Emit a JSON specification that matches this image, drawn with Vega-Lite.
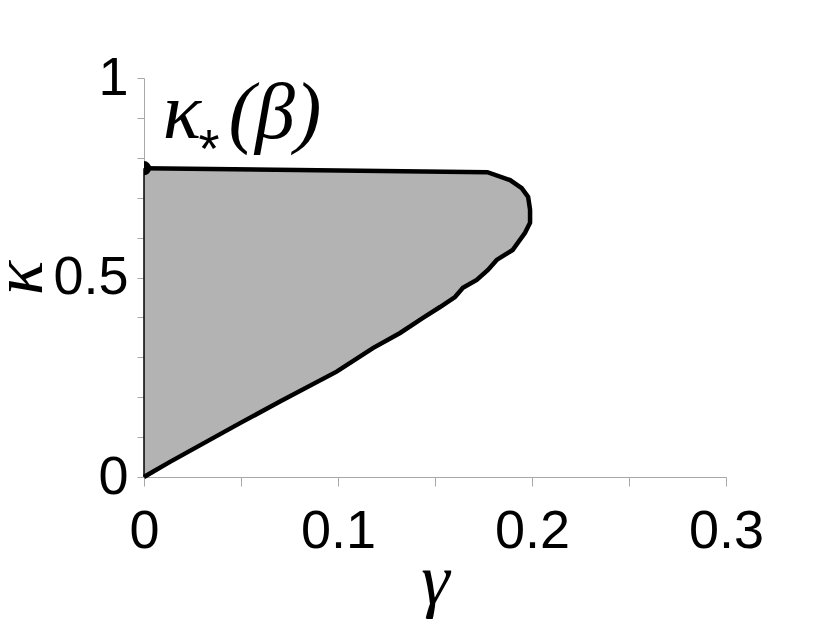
{
  "$schema": "https://vega.github.io/schema/vega-lite/v6.json",
  "autosize": "none",
  "padding": {"left": 144, "top": 78, "right": 104, "bottom": 149},
  "width": 582,
  "height": 399,
  "background": "white",
  "config": {
    "view": {"stroke": null},
    "axis": {
      "grid": false,
      "domainColor": "#a8a8a8",
      "tickColor": "#a8a8a8",
      "domainWidth": 1,
      "tickWidth": 1,
      "labelFont": "Liberation Sans",
      "labelFontSize": 54,
      "labelColor": "black",
      "labelOverlap": false,
      "titleFont": "Liberation Serif",
      "titleFontStyle": "italic",
      "titleFontWeight": "normal",
      "titleColor": "black",
      "titleFontSize": 72
    }
  },
  "datasets": {
    "boundary": [
      {"i": 0, "g": 0, "k": 0.774},
      {"i": 1, "g": 0.177, "k": 0.764},
      {"i": 2, "g": 0.1887, "k": 0.744},
      {"i": 3, "g": 0.1947, "k": 0.724},
      {"i": 4, "g": 0.198, "k": 0.702},
      {"i": 5, "g": 0.199, "k": 0.67},
      {"i": 6, "g": 0.199, "k": 0.637},
      {"i": 7, "g": 0.1964, "k": 0.612},
      {"i": 8, "g": 0.19, "k": 0.569},
      {"i": 9, "g": 0.1818, "k": 0.544},
      {"i": 10, "g": 0.1773, "k": 0.519},
      {"i": 11, "g": 0.1715, "k": 0.494},
      {"i": 12, "g": 0.1644, "k": 0.474},
      {"i": 13, "g": 0.1603, "k": 0.451},
      {"i": 14, "g": 0.1526, "k": 0.426},
      {"i": 15, "g": 0.1438, "k": 0.399},
      {"i": 16, "g": 0.132, "k": 0.361},
      {"i": 17, "g": 0.118, "k": 0.323},
      {"i": 18, "g": 0.0993, "k": 0.264},
      {"i": 19, "g": 0.0701, "k": 0.189},
      {"i": 20, "g": 0.0495, "k": 0.135},
      {"i": 21, "g": 0.0134, "k": 0.038},
      {"i": 22, "g": 0.0046, "k": 0.013},
      {"i": 23, "g": 0, "k": 0}
    ]
  },
  "encoding": {
    "y": {
      "field": "k", "type": "quantitative",
      "scale": {"domain": [0, 1], "nice": false, "zero": false},
      "axis": {
        "title": "κ",
        "values": [0, 0.1, 0.2, 0.3, 0.4, 0.5, 0.6, 0.7, 0.8, 0.9, 1],
        "labelExpr": "round(datum.value*10) % 5 == 0 ? format(datum.value, '~g') : ''",
        "tickSize": 7,
        "labelPadding": 9,
        "titlePadding": -4,
        "titleAngle": -90
      }
    },
    "x": {
      "field": "g", "type": "quantitative",
      "scale": {"domain": [0, 0.3], "nice": false, "zero": false},
      "axis": {
        "title": "γ",
        "values": [0, 0.05, 0.1, 0.15, 0.2, 0.25, 0.3],
        "labelExpr": "round(datum.value*20) % 2 == 0 ? format(datum.value, '~g') : ''",
        "tickSize": 9,
        "labelPadding": 18,
        "titlePadding": -12,
        "labelFlush": false
      }
    }
  },
  "layer": [
    {
      "data": {"name": "boundary"},
      "mark": {"type": "area", "orient": "horizontal", "color": "#b3b3b3", "opacity": 1},
      "encoding": {
        "x2": {"datum": 0}
      }
    },
    {
      "data": {"values": [{"g": 0, "k": 0, "k1": 0.774}]},
      "mark": {"type": "rule", "color": "black", "strokeWidth": 1.5},
      "encoding": {
        "y2": {"field": "k1"}
      }
    },
    {
      "data": {"name": "boundary"},
      "mark": {"type": "line", "color": "black", "strokeWidth": 4.5, "strokeJoin": "miter"},
      "encoding": {
        "order": {"field": "i", "type": "quantitative"}
      }
    },
    {
      "data": {"values": [{"g": 0, "k": 0.774}]},
      "mark": {"type": "point", "filled": true, "color": "black", "opacity": 1, "size": 200, "clip": true},
      "encoding": {}
    },
    {
      "data": {"values": [{"label": "κ", "g": 0.0195, "k": 0.85}, {"label": "(β)", "g": 0.0675, "k": 0.85}]},
      "mark": {"type": "text", "font": "Liberation Serif", "fontStyle": "italic", "fontSize": 80, "align": "center", "baseline": "alphabetic", "fill": "black"},
      "encoding": {
        "text": {"field": "label"}
      }
    },
    {
      "data": {"values": [{"label": "*", "g": 0.0335, "k": 0.776}]},
      "mark": {"type": "text", "font": "Liberation Sans", "fontSize": 54, "align": "center", "baseline": "alphabetic", "fill": "black"},
      "encoding": {
        "text": {"field": "label"}
      }
    }
  ]
}
